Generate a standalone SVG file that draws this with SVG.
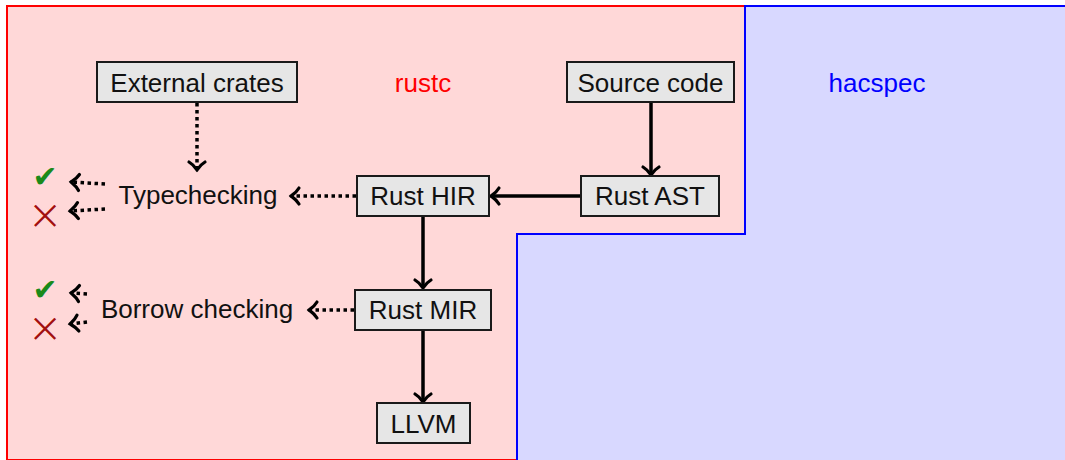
<svg xmlns="http://www.w3.org/2000/svg" width="1065" height="460" viewBox="0 0 1065 460">
<style>
.node rect{fill:#e6e6e6;stroke:#1a1a1a;stroke-width:2}
.node text,.lbl{font-family:"Liberation Sans",Arial,sans-serif;font-size:26px;fill:#111;text-anchor:middle}
.solid{stroke:#000;stroke-width:3.5;fill:none;marker-end:url(#ah)}
.dot{stroke:#000;stroke-width:3.5;fill:none;stroke-dasharray:3.5 3.5;marker-end:url(#ah)}
.ok{font-family:"DejaVu Sans",sans-serif;font-size:30px;fill:#1a8a1a;text-anchor:middle}
.fail{font-family:"DejaVu Sans",sans-serif;font-size:42px;fill:#a01010;stroke:#ffd8d8;stroke-width:1.6;text-anchor:middle}
</style>
<defs>
<marker id="ah" markerUnits="userSpaceOnUse" markerWidth="24" markerHeight="24" viewBox="-12 -12 24 24" refX="0" refY="0" orient="auto" overflow="visible">
<path d="M-8,-8 C-5,-3 -1,-1 0,0 C-1,1 -5,3 -8,8" fill="none" stroke="#000" stroke-width="3.2" stroke-dasharray="none" stroke-linecap="round"/>
</marker>
</defs>
<g id="regions">
<path d="M7,460 V6 H745 V460 Z" fill="#ffd8d8" stroke="#ff0000" stroke-width="2"/>
<path d="M517,461 V234 H745 V6 H1066 V461 Z" fill="#d8d8ff" stroke="#0000ff" stroke-width="2"/>
<text class="lbl" x="423" y="92" style="fill:#ff0000">rustc</text>
<text class="lbl" x="877" y="92" style="fill:#0000ff">hacspec</text>
</g>
<g id="connectors">
<line class="solid" x1="651" y1="102" x2="651" y2="175"/>
<line class="solid" x1="581" y1="196" x2="491" y2="196"/>
<line class="solid" x1="423" y1="216" x2="423" y2="288"/>
<line class="solid" x1="423" y1="330" x2="423" y2="402"/>
<line class="dot" x1="197" y1="103" x2="197" y2="170"/>
<line class="dot" x1="356" y1="196" x2="291" y2="196"/>
<line class="dot" x1="105" y1="184" x2="71" y2="182"/>
<line class="dot" x1="105" y1="209" x2="70" y2="211"/>
<line class="dot" x1="354" y1="310" x2="309" y2="310"/>
<line class="dot" x1="87" y1="294" x2="71" y2="293"/>
<line class="dot" x1="87" y1="322" x2="70" y2="324"/>
</g>
<g id="external-crates" class="node"><rect x="97" y="62" width="200" height="40"/><text x="197" y="92">External crates</text></g>
<g id="source-code" class="node"><rect x="567" y="62" width="167" height="40"/><text x="650.5" y="92">Source code</text></g>
<g id="rust-ast" class="node"><rect x="581" y="176" width="138" height="40"/><text x="650" y="205">Rust AST</text></g>
<g id="rust-hir" class="node"><rect x="357" y="176" width="132" height="40"/><text x="423" y="205">Rust HIR</text></g>
<g id="rust-mir" class="node"><rect x="355" y="290" width="136" height="40"/><text x="423" y="319">Rust MIR</text></g>
<g id="llvm" class="node"><rect x="377" y="403" width="93" height="40"/><text x="423.5" y="433">LLVM</text></g>
<g id="typechecking"><text class="lbl" x="198" y="204">Typechecking</text></g>
<g id="borrow-checking"><text class="lbl" x="197" y="318">Borrow checking</text></g>
<g id="type-ok"><text class="ok" x="45" y="187">✔</text></g>
<g id="type-fail"><text class="fail" x="45" y="231">✕</text></g>
<g id="borrow-ok"><text class="ok" x="45" y="300">✔</text></g>
<g id="borrow-fail"><text class="fail" x="45" y="344">✕</text></g>
</svg>
